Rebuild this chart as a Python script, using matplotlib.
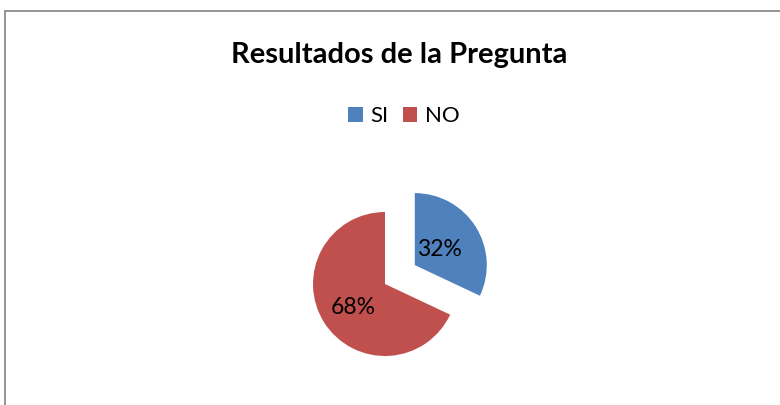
import matplotlib
matplotlib.use("Agg")
import matplotlib.pyplot as plt
from matplotlib.patches import Rectangle, Patch

categories = ["SI", "NO"]
values = [32, 68]
colors = ["#4F81BD", "#C0504D"]
title = "Resultados de la Pregunta"

W, H = 780, 405
fig = plt.figure(figsize=(W/100, H/100), dpi=100)
plt.rcParams['font.family'] = ['Lato', 'DejaVu Sans']

# chart border
fig.patches.append(Rectangle((5/W, -0.1), 1.0, (H-11)/H + 0.1, transform=fig.transFigure,
                             fill=False, edgecolor="#8c8c8c", linewidth=1.3))

r_px = 72
cx, cy = 385, H - 284
half = 121
ax = fig.add_axes([(cx-half)/W, (cy-half)/H, 2*half/W, 2*half/H])
lim = half / r_px
wedges, texts, autotexts = ax.pie(values, colors=colors, startangle=90, counterclock=False,
                                  explode=[0.49, 0], autopct='%1.0f%%', pctdistance=0.5,
                                  textprops=dict(fontsize=16.5, color='black'))
ax.set_xlim(-lim, lim)
ax.set_ylim(-lim, lim)
ax.set_aspect('equal')
ax.axis('off')

# per-slice label distance adjustment
scales = [0.80, 1.05]
for w, t, s in zip(wedges, autotexts, scales):
    ccx, ccy = w.center
    x, y = t.get_position()
    t.set_position((ccx + (x-ccx)*s, ccy + (y-ccy)*s))
autotexts[1].set_position((autotexts[1].get_position()[0], autotexts[1].get_position()[1] - 0.05))

fig.text(399/W, 1 - 55/H, title, ha='center', va='center', fontsize=21, fontweight='bold')

handles = [Patch(facecolor=c, edgecolor='none') for c in colors]
fig.legend(handles, categories, loc='center', bbox_to_anchor=(404/W, 1-116/H), ncol=2,
           frameon=False, fontsize=16, handlelength=0.65, handleheight=0.65,
           handletextpad=0.35, columnspacing=0.65)

fig.savefig("out.png", dpi=100)
